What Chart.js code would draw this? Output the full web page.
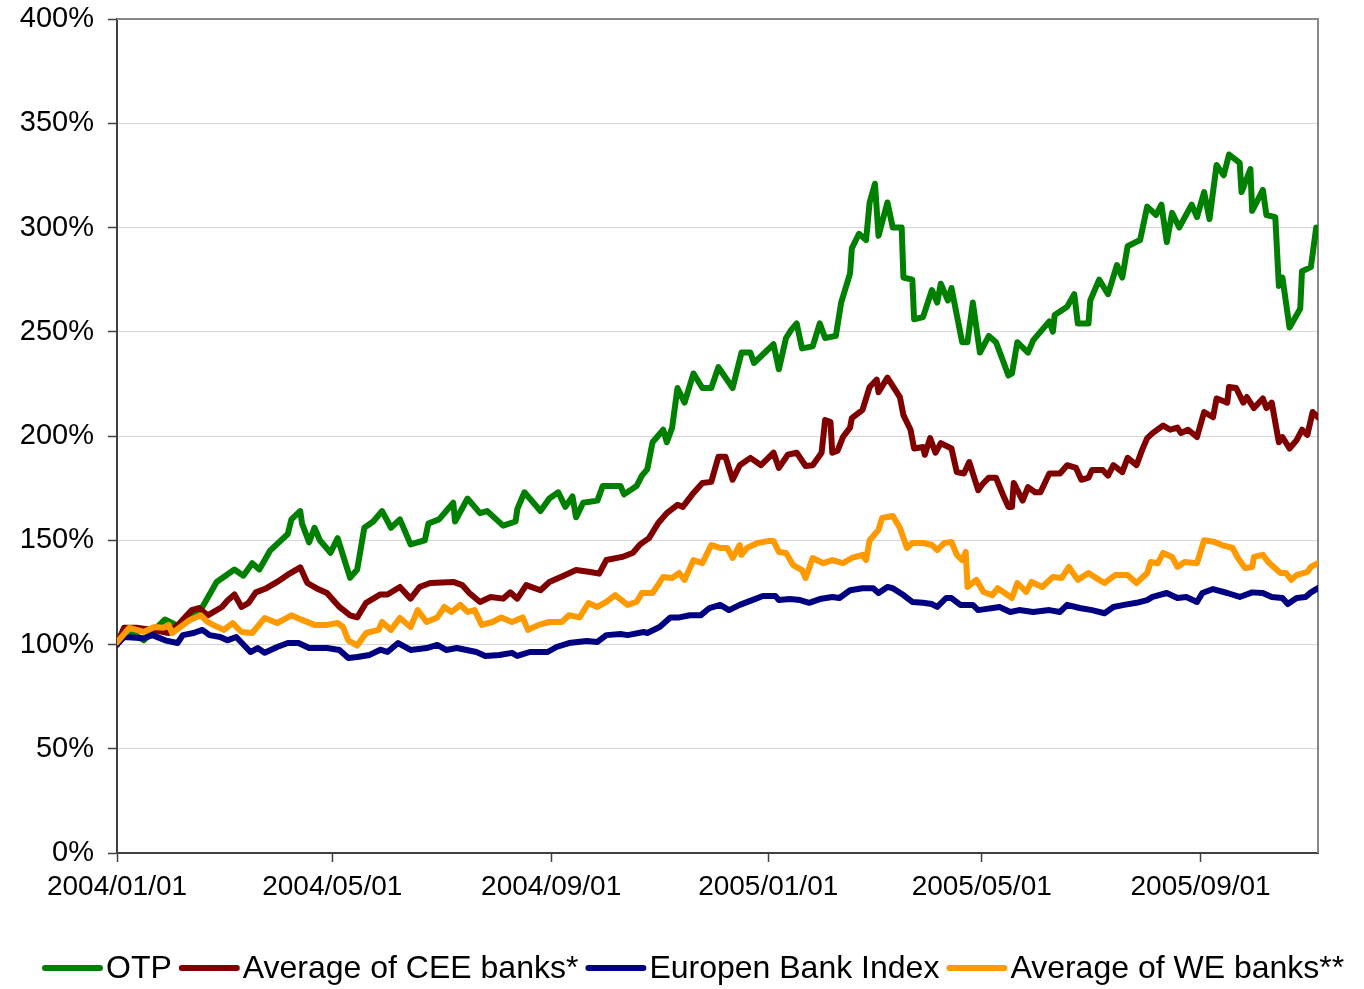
<!DOCTYPE html>
<html>
<head>
<meta charset="utf-8">
<title>OTP vs banks</title>
<script src="https://cdn.jsdelivr.net/npm/chart.js@4.4.0/dist/chart.umd.min.js"></script>
<style>
  html, body { margin: 0; padding: 0; background: #fff; }
  canvas { display: block; }
</style>
</head>
<body>
<canvas id="grafico" width="1364" height="989"></canvas>
<script>
// x = days since 2004/01/01, y = index (%)
const tickDays = [0, 121, 244, 366, 486, 609];
const tickLabels = ["2004/01/01", "2004/05/01", "2004/09/01", "2005/01/01", "2005/05/01", "2005/09/01"];
const lastDay = 675;

const otpDays = [0,4,15,27,34,48,56,66,71,76,80,86,96,98,103,104,108,111,114,120,124,131,135,139,144,149,154,159,165,173,175,181,189,190,197,204,208,217,224,225,229,238,243,248,252,256,258,262,270,273,283,285,292,295,298,301,307,309,312,315,319,324,329,334,338,346,351,356,358,369,372,376,379,382,385,391,395,398,404,407,412,413,417,421,423,426,428,433,436,441,442,447,448,453,458,461,463,467,469,475,478,481,485,490,494,498,501,503,506,512,515,524,526,527,534,538,540,546,547,552,557,562,565,568,575,579,584,587,590,593,597,604,607,611,614,618,622,625,631,632,637,638,644,646,651,653,655,659,665,666,671,674,675];
const otpValues = [100,108,102,112,109,118,130,136,133,139,136,145,153,160,164,158,149,156,150,144,151,132,136,156,159,164,156,160,148,150,158,160,168,159,170,163,164,157,159,165,173,164,170,173,166,171,161,168,169,176,176,172,176,181,184,197,203,197,204,223,216,230,223,223,233,223,240,240,235,244,232,247,251,254,242,243,254,247,248,264,278,290,297,294,312,321,296,312,300,300,276,275,256,257,270,264,273,265,271,245,245,264,240,248,245,236,229,230,245,240,246,255,250,258,262,268,254,254,265,275,268,282,276,291,294,310,306,311,293,307,300,311,305,317,304,330,325,335,331,317,328,308,318,306,305,272,276,252,261,279,281,300,296];

const ceeDays = [0,4,11,20,29,35,42,46,51,59,62,66,70,74,78,84,90,97,103,107,112,118,125,131,135,140,148,152,159,165,170,176,189,194,198,204,210,217,221,225,230,238,243,251,258,266,271,275,284,290,294,299,304,309,315,318,324,329,334,338,342,346,350,356,362,369,372,377,382,387,391,396,398,401,402,405,408,412,413,419,423,427,428,433,440,442,446,448,453,454,457,460,463,469,472,476,479,484,486,490,494,498,501,503,504,509,512,516,519,524,530,534,539,542,546,548,554,557,560,565,568,573,576,579,582,588,592,596,598,602,607,611,616,618,621,624,625,629,633,635,639,644,646,649,653,655,659,663,666,669,672,675];
const ceeValues = [100,108,108,107,105.5,110,116.5,117.5,114,118,121,124,118,120,125,127,130,134,137,129.5,127,124.7,118,114,113,120,124,124,127.6,122,127.6,129.5,130,128.5,124.7,120.4,122.8,122,125,122,128.5,126,130,133,135.7,134.8,134,140.5,142,144,148,151,158,163,167,166,172.7,177.5,178,190,190,179,186,189.5,186,192,184.7,191,192,185.6,186,192,207.7,206.7,192,193,199.5,204,208.6,212.5,223.5,227,221,228,218.7,210,203,194,194.7,191,199,192,196.6,194,182.7,182,187.5,174,176.5,180,180,171.7,166,166,177.5,169,175.5,173,173,182,182,186,184.7,179,180,183.7,183.7,181,186,182.7,189.5,186,193,199,201.4,205,203,204,201.4,203,199.5,211.5,209,218,217,216,223.5,223,216,218.7,213.4,218,213.4,216,197,199.5,194,198,203,200.5,211.5,209];

const ebiDays = [0,4,15,20,27,34,37,43,48,52,58,62,67,75,79,83,90,96,102,108,118,125,130,135,142,148,152,158,165,174,180,185,191,202,207,215,222,225,232,242,247,254,264,270,275,283,287,296,298,305,311,316,322,328,333,339,344,350,357,363,370,372,378,384,389,395,402,406,412,419,425,428,433,436,442,447,453,458,461,466,469,474,481,484,496,502,507,515,524,530,534,541,548,555,560,566,573,579,582,590,596,601,607,610,616,624,631,638,644,649,655,658,663,668,671,675];
const ebiValues = [100,103.6,103,104.5,102,100.7,104.5,105.5,107,104.5,103.6,102,103.6,96.4,98.3,96,98.8,100.7,100.7,98.3,98.3,97.4,93.5,94,95,97.5,96.4,100.7,97.4,98.3,99.8,97.4,98.3,96.4,94.5,95,96,94.5,96.4,96.4,98.8,100.7,101.7,101.2,104.5,105,104.5,106,105.5,108.4,113,113,114,114,117.5,119,116.5,119,121.3,123.3,123.3,121.3,121.8,121.3,120,121.8,122.8,122.3,126,127,127,124.7,127.6,127,123.7,120.4,120,119.4,118,122.3,122.3,119,119,116.5,118,115.6,116.5,115.6,116.5,115.6,119,117.5,116.5,115,118,119,120,121.3,122.8,124.7,122.3,122.8,120.4,124.7,126.6,124.7,122.8,125,124.7,122.8,122.3,119.4,122.3,122.8,125,127];

const weDays = [0,7,15,21,26,29,31,35,41,47,51,54,60,65,70,76,83,90,98,104,111,118,124,127,130,135,140,147,149,154,159,165,169,174,180,184,188,193,197,201,205,211,216,222,228,231,237,243,250,254,260,265,270,275,280,287,292,295,301,304,307,312,316,319,324,329,334,339,343,346,350,351,354,360,366,369,372,376,380,385,387,391,397,402,408,413,419,421,423,428,430,436,440,444,447,453,458,461,465,469,472,475,477,478,483,487,492,495,503,506,511,514,520,526,531,535,540,546,552,555,561,568,573,579,581,585,588,593,596,600,607,611,617,621,627,630,634,638,639,644,647,652,654,657,660,663,669,671,675];
const weValues = [101,108,106,108.4,108,109.4,105.5,108,111.8,114,110.8,109.4,107,110.3,106,105.5,112.7,110.3,114,111.8,109.4,109.4,110.3,108.4,102,99.5,105.5,107,110.8,107,112.7,108.4,116.5,110.8,113,118,115.6,119,115.6,116.5,109.4,110.8,113,110.8,113,107,109.4,110.8,110.8,114,113,119.9,118,120.4,123.7,119,120.4,124.7,124.7,128.5,132.4,131.9,134.3,131,140.5,139,147.7,146.3,146.3,141.5,147.7,143,146.3,148.7,149.6,149.6,144.4,143.9,138.1,135.7,131.9,141.5,139,140.5,139,141.5,143,140.5,150,155,160.7,161.6,156,146.3,148.7,148.7,147.7,145.3,148.7,149.2,143,140.5,144.4,127.6,131,125.2,123.7,127,122.3,129.5,125.2,130,127.6,132.4,131.9,137.2,131,134.3,131,129.5,133.3,133.3,129.5,134.3,139.6,139,143.9,142,137.2,139.6,139,150,149.2,147.7,146.3,141.5,136.7,137.2,142,143,139.6,135.7,134.3,134.3,131,133.3,134.8,137.2,139];

const FONTE = '"Liberation Sans", Arial, sans-serif';
Chart.defaults.font.family = FONTE;
Chart.defaults.color = "#000";

function pontos(days, values) {
  return days.map((d, i) => ({ x: d, y: values[i] }));
}

// top and right frame of the plot area
const moldura = {
  id: "moldura",
  beforeDatasetsDraw(chart) {
    const { ctx, chartArea: a } = chart;
    ctx.save();
    ctx.strokeStyle = "#888";
    ctx.lineWidth = 2;
    ctx.beginPath();
    ctx.moveTo(a.left, a.top);
    ctx.lineTo(a.right, a.top);
    ctx.lineTo(a.right, a.bottom);
    ctx.stroke();
    ctx.restore();
  },
};

// legend drawn by hand so line samples sit tight against the text
const legenda = {
  id: "legenda",
  afterDraw(chart) {
    const ctx = chart.ctx;
    ctx.save();
    ctx.font = "32px " + FONTE;
    ctx.textBaseline = "middle";
    let x = 42;
    const y = 968;
    chart.data.datasets.forEach((ds) => {
      ctx.strokeStyle = ds.borderColor;
      ctx.lineWidth = 6;
      ctx.lineCap = "round";
      ctx.beginPath();
      ctx.moveTo(x + 3, y);
      ctx.lineTo(x + 58, y);
      ctx.stroke();
      x += 64;
      ctx.fillStyle = "#000";
      ctx.fillText(ds.label, x, y + 1);
      x += ctx.measureText(ds.label).width + 7;
    });
    ctx.restore();
  },
};

new Chart(document.getElementById("grafico"), {
  type: "line",
  data: {
    datasets: [
      { label: "OTP", data: pontos(otpDays, otpValues), borderColor: "#008000", order: 4 },
      { label: "Average of CEE banks*", data: pontos(ceeDays, ceeValues), borderColor: "#800000", order: 3 },
      { label: "Europen Bank Index", data: pontos(ebiDays, ebiValues), borderColor: "#000080", order: 2 },
      { label: "Average of WE banks**", data: pontos(weDays, weValues), borderColor: "#FF9900", order: 1 },
    ],
  },
  options: {
    responsive: false,
    animation: false,
    layout: { padding: { top: 19, right: 46, left: 0, bottom: 0 } },
    plugins: { legend: { display: false }, tooltip: { enabled: false } },
    elements: {
      point: { radius: 0 },
      line: { tension: 0, borderWidth: 6, borderJoinStyle: "round", borderCapStyle: "round", fill: false },
    },
    scales: {
      x: {
        type: "linear",
        min: 0,
        max: lastDay,
        afterBuildTicks: (s) => { s.ticks = tickDays.map((v) => ({ value: v })); },
        afterFit: (s) => { s.height = 136; s.paddingLeft = 0; s.paddingRight = 0; },
        ticks: {
          autoSkip: false,
          maxRotation: 0,
          padding: 8,
          font: { size: 28 },
          callback: (v) => tickLabels[tickDays.indexOf(v)] || "",
        },
        grid: { drawOnChartArea: false, tickLength: 9, tickColor: "#404040", tickWidth: 1.5 },
        border: { color: "#404040", width: 2 },
      },
      y: {
        min: 0,
        max: 400,
        afterFit: (s) => { s.width = 117; s.paddingTop = 0; s.paddingBottom = 0; },
        ticks: { stepSize: 50, padding: 14, font: { size: 29 }, callback: (v) => v + "%" },
        grid: {
          color: (c) => (c.tick && c.tick.value === 400 ? "#888" : "#d4d4d4"),
          lineWidth: 1,
          tickLength: 9,
          tickColor: "#404040",
          tickWidth: 1.5,
        },
        border: { color: "#404040", width: 2 },
      },
    },
  },
  plugins: [moldura, legenda],
});
</script>
</body>
</html>
